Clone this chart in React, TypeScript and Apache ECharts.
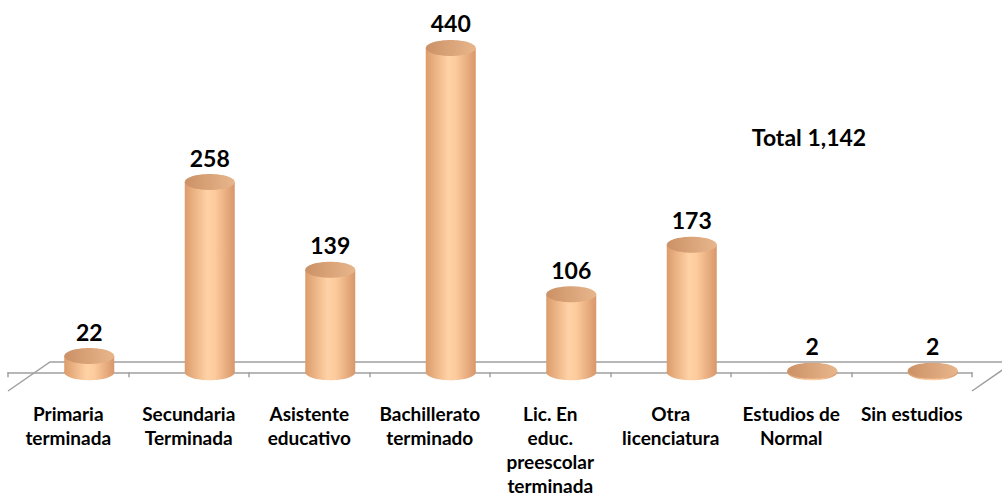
import React, { useEffect, useRef } from "react";
import * as echarts from "echarts";

const categories = [
  "Primaria\nterminada",
  "Secundaria\nTerminada",
  "Asistente\neducativo",
  "Bachillerato\nterminado",
  "Lic. En\neduc.\npreescolar\nterminada",
  "Otra\nlicenciatura",
  "Estudios de\nNormal",
  "Sin estudios",
];
const values = [22, 258, 139, 440, 106, 173, 2, 2];
const totalLabel = "Total 1,142";

const Y_MIN = -20;
const Y_MAX = 480;
const AXIS_Y = 391;
const PX_PER_UNIT = 0.745;
const GRID_LEFT = 8;
const GRID_RIGHT_X = 972;
const DEPTH_OFFSET = 21;
const BAR_W = 50;
const RY = 8;

export default function App() {
  const ref = useRef<HTMLDivElement>(null);
  useEffect(() => {
    if (!ref.current) return;
    const chart = echarts.init(ref.current, undefined, { renderer: "svg" });
    const gridTop = AXIS_Y - (Y_MAX - Y_MIN) * PX_PER_UNIT;
    const bodyGrad = () =>
      new echarts.graphic.LinearGradient(0, 0, 1, 0, [
        { offset: 0, color: "#dc9c6b" },
        { offset: 0.45, color: "#ffd2a6" },
        { offset: 0.6, color: "#fdcb9d" },
        { offset: 1, color: "#d8976a" },
      ]);
    const topGrad = () =>
      new echarts.graphic.LinearGradient(0, 0, 1, 0, [
        { offset: 0, color: "#cc9166" },
        { offset: 1, color: "#e8b68c" },
      ]);
    chart.setOption({
      animation: false,
      grid: {
        left: GRID_LEFT,
        right: 1002 - GRID_RIGHT_X,
        top: gridTop,
        bottom: 497 - AXIS_Y,
        containLabel: false,
      },
      xAxis: {
        type: "category",
        data: categories,
        boundaryGap: true,
        axisLine: { show: true, lineStyle: { color: "#a0a0a0", width: 1.5 } },
        axisTick: { show: true, length: 5, lineStyle: { color: "#a0a0a0", width: 1.5 } },
        axisLabel: {
          interval: 0,
          margin: 14,
          color: "#000",
          fontFamily: "Lato",
          fontWeight: "bold",
          fontSize: 19,
          lineHeight: 24,
        },
      },
      yAxis: {
        type: "value",
        min: Y_MIN,
        max: Y_MAX,
        show: false,
        splitLine: { show: false },
      },
      graphic: [
        {
          type: "polyline",
          shape: {
            points: [
              [GRID_LEFT, AXIS_Y],
              [GRID_LEFT + 42, AXIS_Y - 29],
              [GRID_RIGHT_X + 42, AXIS_Y - 29],
              [GRID_RIGHT_X, AXIS_Y],
            ],
          },
          style: { stroke: "#a0a0a0", lineWidth: 1.5, fill: null },
          z: 0,
        },
        {
          type: "text",
          x: 809,
          y: 137,
          style: {
            text: totalLabel,
            align: "center",
            verticalAlign: "middle",
            font: "bold 23px Lato",
            fill: "#000",
          },
        },
      ],
      series: [
        {
          type: "custom",
          data: values.map((v, i) => [i, v]),
          encode: { x: 0, y: 1 },
          z: 5,
          renderItem: (params: any, api: any) => {
            const i = api.value(0);
            const v = api.value(1);
            const top = api.coord([i, v]);
            const base = api.coord([i, 0]);
            const cx = top[0] + DEPTH_OFFSET;
            const h = Math.max(base[1] - top[1], 0);
            return {
              type: "group",
              children: [
                {
                  type: "ellipse",
                  shape: { cx, cy: base[1], rx: BAR_W / 2, ry: RY },
                  style: { fill: bodyGrad() },
                },
                {
                  type: "rect",
                  shape: { x: cx - BAR_W / 2, y: top[1], width: BAR_W, height: h },
                  style: { fill: bodyGrad() },
                },
                {
                  type: "ellipse",
                  shape: { cx, cy: top[1], rx: BAR_W / 2, ry: RY },
                  style: { fill: topGrad() },
                },
                {
                  type: "text",
                  style: {
                    text: String(v),
                    x: cx,
                    y: top[1] - RY - 5,
                    align: "center",
                    verticalAlign: "bottom",
                    font: "bold 23px Lato",
                    fill: "#000",
                  },
                },
              ],
            };
          },
        },
      ],
    });
    return () => chart.dispose();
  }, []);
  return <div ref={ref} style={{ width: 1002, height: 497, position: "absolute", left: 0, top: 0, background: "#fff" }} />;
}
